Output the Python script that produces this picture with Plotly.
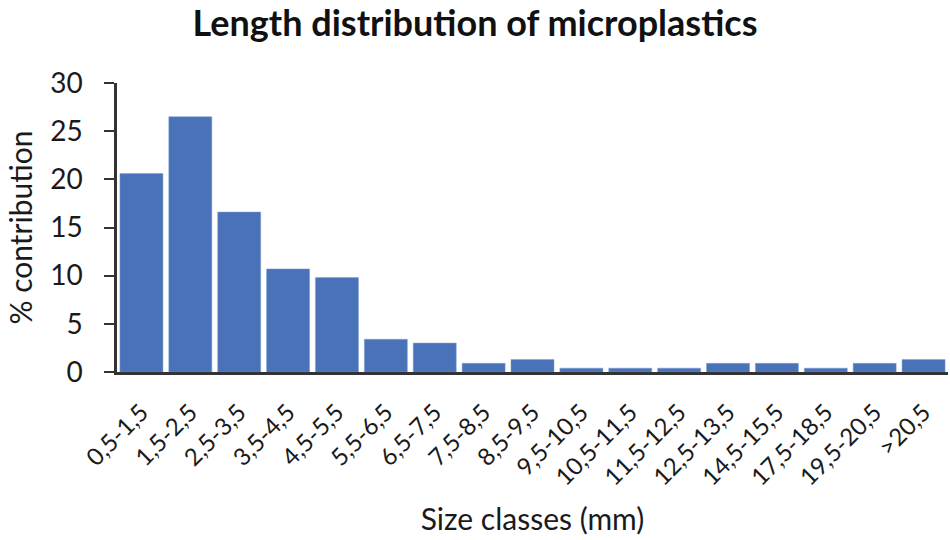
import plotly.graph_objects as go

categories = ["0,5-1,5", "1,5-2,5", "2,5-3,5", "3,5-4,5", "4,5-5,5", "5,5-6,5", "6,5-7,5",
              "7,5-8,5", "8,5-9,5", "9,5-10,5", "10,5-11,5", "11,5-12,5", "12,5-13,5",
              "14,5-15,5", "17,5-18,5", "19,5-20,5", ">20,5"]
contribution = [20.6, 26.5, 16.6, 10.7, 9.8, 3.4, 3.0, 0.9, 1.3, 0.4, 0.4, 0.4, 0.9, 0.9, 0.4, 0.9, 1.3]
y_ticks = [0, 5, 10, 15, 20, 25, 30]

FONT = "Lato"

fig = go.Figure(go.Bar(
    x=categories, y=contribution,
    marker=dict(color="#4a72b8", line=dict(color="#7f9fd4", width=0.5)),
))

fig.update_layout(
    width=950, height=540,
    margin=dict(l=117, r=2, t=83, b=168),
    paper_bgcolor="white", plot_bgcolor="white",
    bargap=0.12,
    showlegend=False,
    font=dict(family=FONT, color="#1a1a1a"),
    title=dict(text="<b>Length distribution of microplastics</b>", x=0.5, xanchor="center",
               xref="container", yref="container",
               y=0.956, yanchor="middle", font=dict(size=36, family=FONT, color="#111111")),
)
fig.update_xaxes(
    automargin=False,
    showline=True, linecolor="#333333", linewidth=2.5,
    ticks="", tickangle=-45, tickfont=dict(size=24, family=FONT),
    ticklabelstandoff=14,
    title=dict(text="Size classes (mm)", font=dict(size=30, family=FONT), standoff=20),
    showgrid=False,
)
fig.update_yaxes(
    automargin=False,
    range=[0, 30], tickvals=y_ticks, showline=True, linecolor="#333333", linewidth=2.5,
    ticks="outside", ticklen=10, tickwidth=2, tickcolor="#333333",
    tickfont=dict(size=28, family=FONT),
    ticklabelstandoff=16,
    title=dict(text="% contribution", font=dict(size=30, family=FONT), standoff=9),
    showgrid=False, zeroline=False,
)

fig.write_html("out.html", config={"displayModeBar": False},
               post_script="document.body.style.margin='0';")
